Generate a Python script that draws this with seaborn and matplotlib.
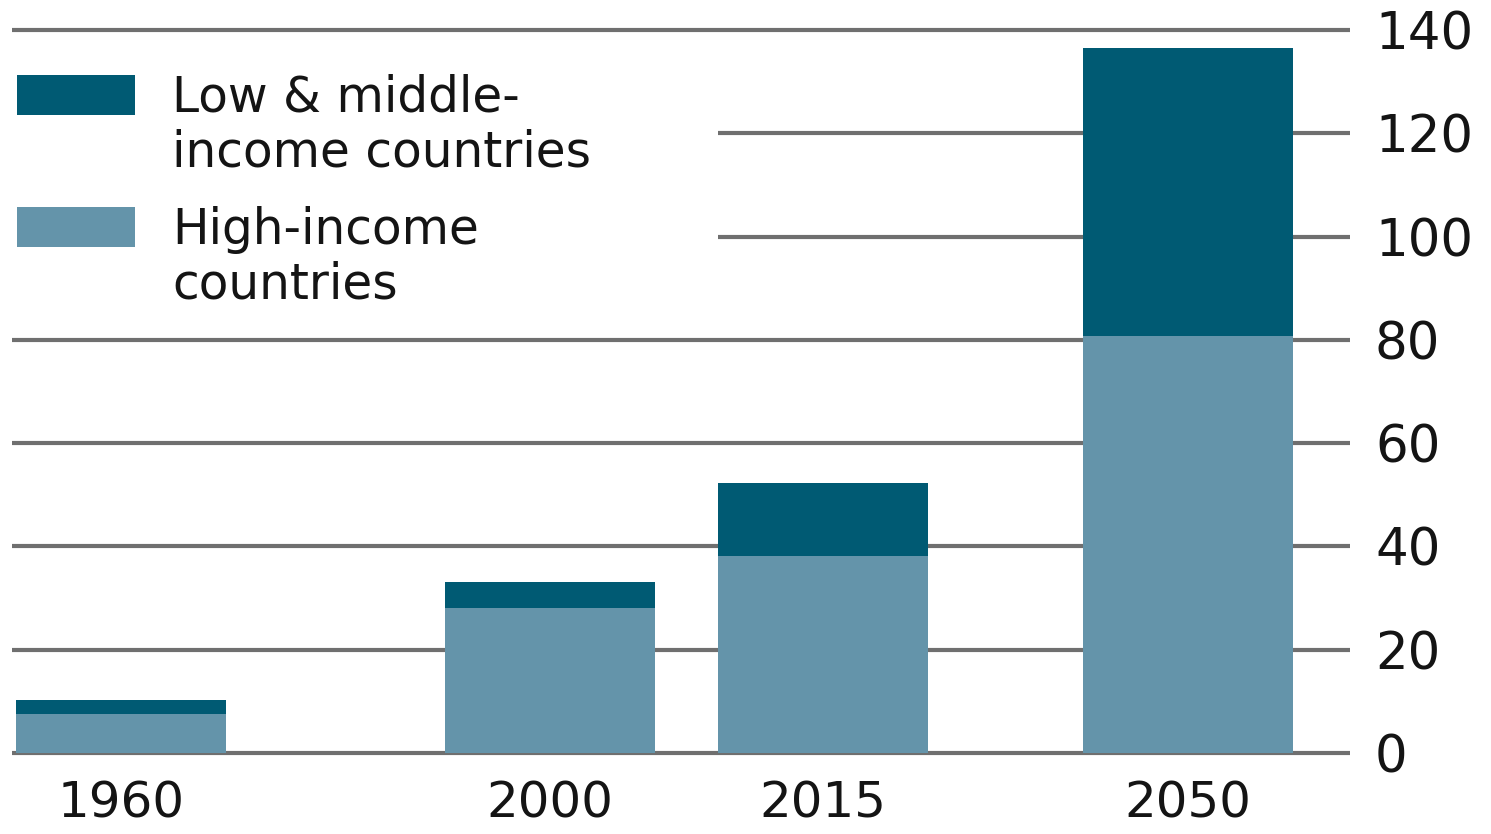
import numpy as np
import pandas as pd
import matplotlib
matplotlib.use("Agg")
import matplotlib.pyplot as plt
import matplotlib.transforms as mtransforms
from matplotlib.patches import Rectangle
import seaborn as sns

# Values (millions) per year, split by country income group
years = ["1960", "2000", "2015", "2050"]
high_income = [7.6, 28.0, 38.1, 80.8]
low_middle_income = [2.6, 5.2, 14.1, 55.7]
y_ticks = [0, 20, 40, 60, 80, 100, 120, 140]
legend_labels = ["Low & middle-\nincome countries", "High-income\ncountries"]

DARK = "#005a73"
LIGHT = "#6494aa"
GRID = "#6f6f6f"
TEXT = "#141414"

# horizontal slot of each bar, measured in bar widths
slots = [0.52, 2.56, 3.86, 5.60]
bar_w = 1.0

df = pd.DataFrame({"slot": slots, "year": years,
                   "high": high_income, "low": low_middle_income})
df["total"] = df["high"] + df["low"]

sns.set_theme(style="white")
plt.rcParams["font.family"] = ["DejaVu Sans"]

W, H = 1491, 834
fig = plt.figure(figsize=(W / 100, H / 100), dpi=100)
ax = fig.add_axes([12 / W, 81 / H, 1338 / W, 723 / H])

width = bar_w / np.diff(sorted(slots)).min()
common = dict(data=df, x="slot", native_scale=True, orient="x",
              saturation=1, width=width, errorbar=None, ax=ax,
              linewidth=0, zorder=3)
sns.barplot(y="total", color=DARK, **common)
sns.barplot(y="high", color=LIGHT, **common)

ax.set_xlim(0, 6.37)
ax.set_ylim(0, 140)
ax.set_xlabel("")
ax.set_ylabel("")
for s in ax.spines.values():
    s.set_visible(False)

ax.set_yticks(y_ticks)
ax.set_yticklabels([str(v) for v in y_ticks])
ax.yaxis.tick_right()
ax.tick_params(axis="y", length=0, pad=18, labelsize=37, labelcolor=TEXT)
ax.set_xticks(slots)
ax.set_xticklabels(years)
ax.tick_params(axis="x", length=0, pad=19, labelsize=36, labelcolor=TEXT)

ax.set_axisbelow(True)
ax.yaxis.grid(True, color=GRID, linewidth=3, solid_capstyle="butt")
ax.xaxis.grid(False)
for gl in ax.get_ygridlines():
    gl.set_clip_on(False)

# white panel behind the legend, hiding the upper gridlines
blend = mtransforms.blended_transform_factory(ax.transAxes, ax.transData)
ax.add_patch(Rectangle((-0.01, 88), 0.5377, 44, transform=blend,
                       facecolor="white", edgecolor="none", zorder=2,
                       clip_on=False))

# legend: swatch beside the first line of each label
for (top, color, label) in [(75, DARK, legend_labels[0]),
                            (207, LIGHT, legend_labels[1])]:
    fig.patches.append(Rectangle((17 / W, 1 - (top + 40) / H), 118 / W, 40 / H,
                                 transform=fig.transFigure, facecolor=color,
                                 edgecolor="none", zorder=5))
    fig.text(172 / W, 1 - (top - 1) / H, label, fontsize=35, color=TEXT,
             va="top", ha="left", linespacing=1.17, zorder=6)

fig.savefig("out.png", dpi=100, facecolor="white")
